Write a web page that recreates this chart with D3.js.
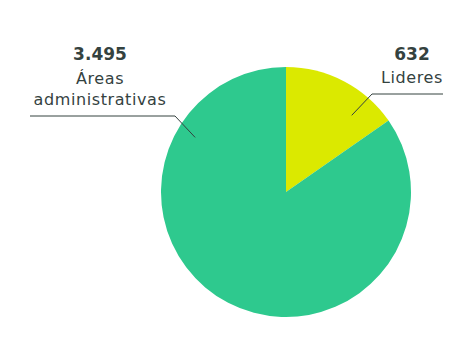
<!DOCTYPE html>
<html>
<head>
<meta charset="utf-8">
<script src="https://cdn.jsdelivr.net/npm/d3@7"></script>
<style>
  body { margin: 0; background: #fff; }
  text { font-family: "DejaVu Sans", sans-serif; fill: #34423f; }
  .cat { font-size: 16px; letter-spacing: 0.6px; }
  .num { font-size: 17px; font-weight: bold; }
</style>
</head>
<body>
<div id="chart"></div>
<script>
let categories = ['Lideres', 'Áreas administrativas']
let values = [632, 3495]
let valueLabels = ['632', '3.495']
let colors = ['#dbe900', '#2ec98e']

let width = 469, height = 345
let cx = 286, cy = 192, radius = 125

let svg = d3.select('#chart').append('svg')
    .attr('width', width)
    .attr('height', height)

let pie = d3.pie().sort(null).value(d => d)
let arcs = pie(values)
let arc = d3.arc().innerRadius(0).outerRadius(radius)

let g = svg.append('g').attr('transform', `translate(${cx},${cy})`)

g.selectAll('path')
    .data(arcs)
    .enter()
    .append('path')
    .attr('d', arc)
    .style('fill', (d, i) => colors[i])

// etiquetas: punto dentro del sector, codo, y línea horizontal
let labels = [
    { angle: 40.6, r: 101, elbow: [372, 94], end: 443, tx: 412 },
    { angle: 301, r: 106, elbow: [175, 116], end: 30, tx: 100 }
]

labels.forEach((l, i) => {
    let a = l.angle * Math.PI / 180
    let px = cx + Math.sin(a) * l.r
    let py = cy - Math.cos(a) * l.r
    svg.append('polyline')
        .attr('points', `${px},${py} ${l.elbow[0]},${l.elbow[1]} ${l.end},${l.elbow[1]}`)
        .style('fill', 'none')
        .style('stroke', '#34423f')
        .style('stroke-width', 1)
})

// 632 / Lideres
svg.append('text').attr('class', 'num').attr('x', labels[0].tx).attr('y', 60)
    .attr('text-anchor', 'middle')
    .text(valueLabels[0])
svg.append('text').attr('class', 'cat').attr('x', labels[0].tx).attr('y', 83)
    .attr('text-anchor', 'middle')
    .text(categories[0])

// 3.495 / Áreas administrativas
svg.append('text').attr('class', 'num').attr('x', labels[1].tx).attr('y', 60)
    .attr('text-anchor', 'middle')
    .text(valueLabels[1])
let words = categories[1].split(' ')
svg.append('text').attr('class', 'cat').attr('x', labels[1].tx).attr('y', 84)
    .attr('text-anchor', 'middle')
    .text(words[0])
svg.append('text').attr('class', 'cat').attr('x', labels[1].tx).attr('y', 105)
    .attr('text-anchor', 'middle')
    .text(words[1])
</script>
</body>
</html>
